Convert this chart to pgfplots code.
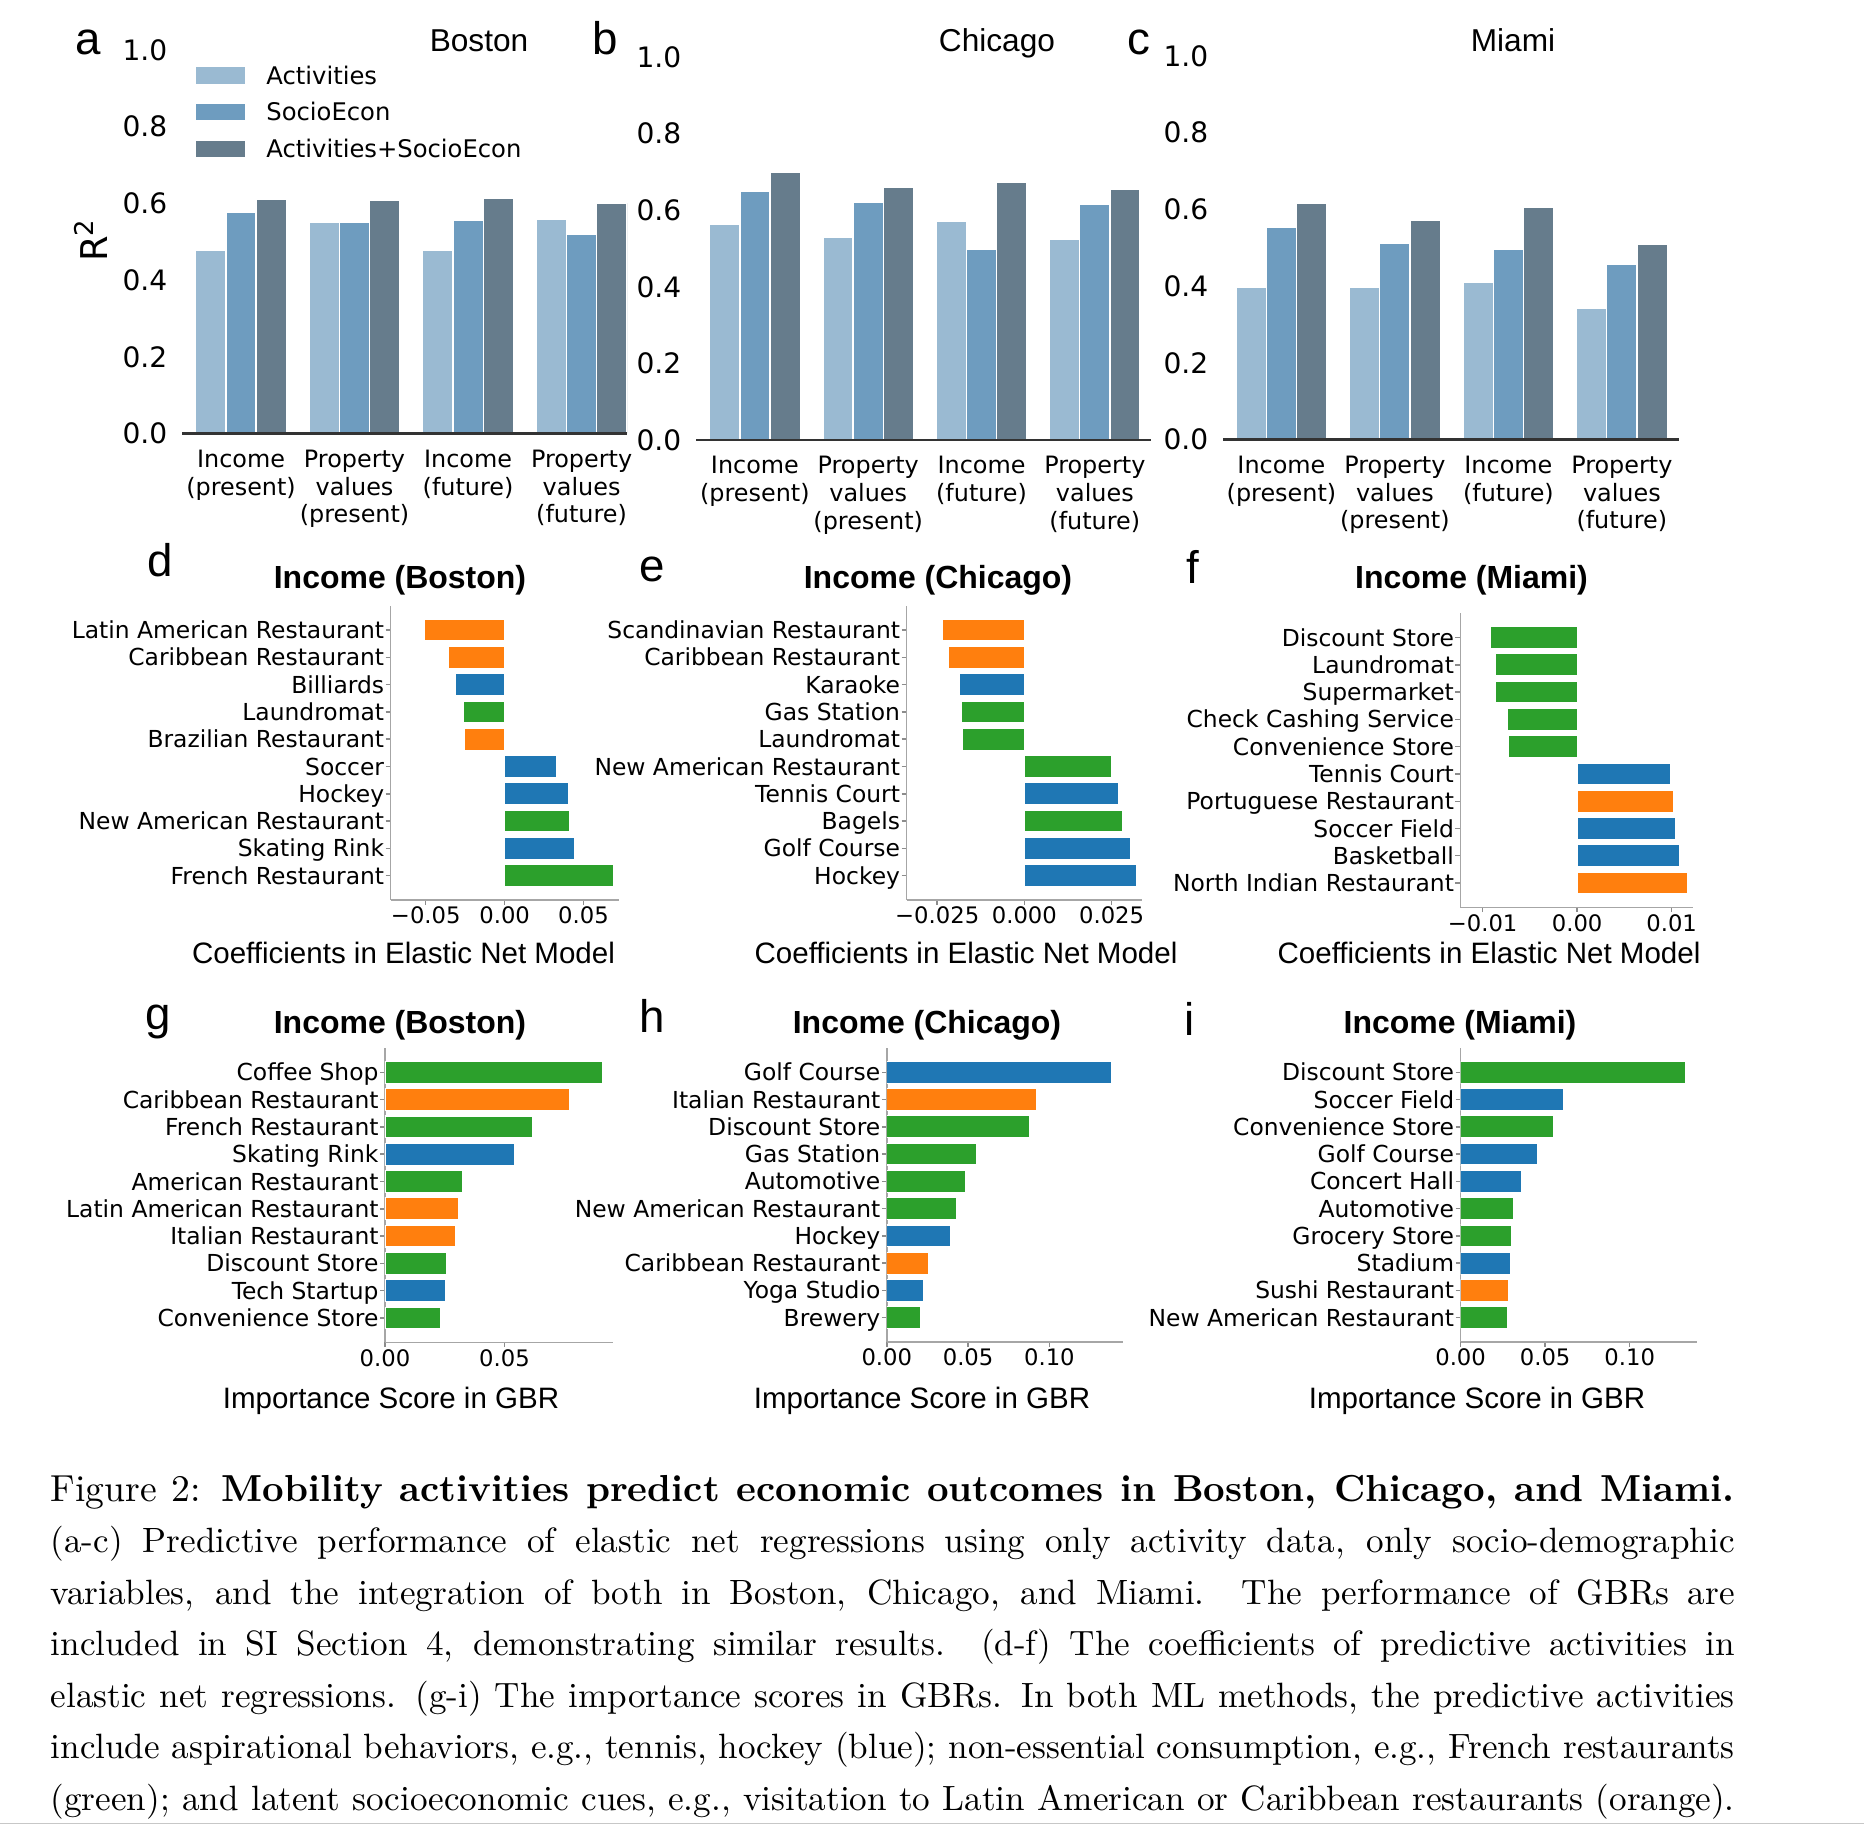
\documentclass[border=0pt]{standalone}
\usepackage{fontspec}
\usepackage{pgfplots}
\pgfplotsset{compat=1.18}
\newfontfamily\dejavu{DejaVu Sans}
\newfontfamily\arial{Liberation Sans}
\definecolor{cA}{HTML}{9ABAD2}
\definecolor{cS}{HTML}{6E9CBF}
\definecolor{cAS}{HTML}{667C8C}
\definecolor{tblue}{HTML}{1F77B4}
\definecolor{torange}{HTML}{FF7F0E}
\definecolor{tgreen}{HTML}{2CA02C}
\pgfplotsset{
  topbar/.style={scale only axis, anchor=south west, ymin=0, ymax=1, axis on top,
    ytick={0,0.2,0.4,0.6,0.8,1.0}, yticklabels={0.0,0.2,0.4,0.6,0.8,1.0},
    xtick={0,1,2,3},
    axis x line*=bottom, axis y line*=left,
    y axis line style={draw=none},
    x axis line style={-, draw=black!80, line width=0.6pt},
    major tick length=0pt, tick style={draw=none},
    xticklabel style={font=\dejavu\fontsize{6.8}{7.95}\selectfont, align=center, inner sep=0pt, yshift=-4.4pt, anchor=north},
    yticklabel style={font=\dejavu\fontsize{8}{9}\selectfont, inner sep=0pt, xshift=-4pt, anchor=east}},
  hbar/.style={scale only axis, anchor=south west, ymin=-0.89, ymax=9.89,
    ytick={0,1,2,3,4,5,6,7,8,9}, scaled x ticks=false,
    axis x line*=bottom, axis y line*=left,
    axis line style={-, draw=black!35, line width=0.45pt},
    tick align=outside, major tick length=1.4pt,
    tick style={draw=black!45, line width=0.4pt},
    yticklabel style={font=\dejavu\fontsize{6.66}{7}\selectfont, inner sep=0pt, xshift=-0.25pt, anchor=east, text height=4.85pt, text depth=0pt},
    xticklabel style={font=\dejavu\fontsize{6.46}{7}\selectfont, inner sep=0pt, yshift=-0.4pt, anchor=north}},
  cbar/.style={xbar, bar width=0.8, bar shift=0pt, draw=white, line width=0.3pt, fill=#1},
  vbar/.style={ybar, bar width=0.2667, bar shift=0pt, draw=white, line width=0.4pt, fill=#1}
}
\begin{document}
\begin{tikzpicture}
\path[use as bounding box] (0,0) rectangle (18.64,-18.25);

% ---------- top row ----------
\begin{axis}[topbar, at={(1.82cm,-4.335cm)}, width=4.45cm, height=3.835cm, xmin=-0.52, xmax=3.4,
  xticklabels={{Income\\(present)},{Property\\values\\(present)},{Income\\(future)},{Property\\values\\(future)}},
  legend entries={Activities,SocioEcon,Activities+SocioEcon},
  legend cell align=left,
  legend style={at={(0.0315,0.967)}, anchor=north west, draw=none, fill=none, inner sep=0pt, outer sep=0pt,
    row sep=3.0pt, column sep=5.97pt, font=\dejavu\fontsize{6.9}{7}\selectfont,
    nodes={inner sep=0pt, text height=6.2pt, text depth=1.2pt}}]
\addplot[vbar=cA, legend image code/.code={\fill[cA] (0pt,-2.135pt) rectangle (13.66pt,2.135pt);}]
  coordinates {(-0.2667,0.477) (0.7333,0.5515) (1.7333,0.479) (2.7333,0.559)};
\addplot[vbar=cS, legend image code/.code={\fill[cS] (0pt,-2.135pt) rectangle (13.66pt,2.135pt);}]
  coordinates {(0,0.576) (1,0.5515) (2,0.557) (3,0.520)};
\addplot[vbar=cAS, legend image code/.code={\fill[cAS] (0pt,-2.135pt) rectangle (13.66pt,2.135pt);}]
  coordinates {(0.2667,0.611) (1.2667,0.609) (2.2667,0.613) (3.2667,0.601)};
\end{axis}

\begin{axis}[topbar, at={(6.96cm,-4.40cm)}, width=4.555cm, height=3.83cm, xmin=-0.52, xmax=3.5,
  xticklabels={{Income\\(present)},{Property\\values\\(present)},{Income\\(future)},{Property\\values\\(future)}}]
\addplot[vbar=cA] coordinates {(-0.2667,0.563) (0.7333,0.530) (1.7333,0.571) (2.7333,0.525)};
\addplot[vbar=cS] coordinates {(0,0.649) (1,0.620) (2,0.4975) (3,0.6145)};
\addplot[vbar=cAS] coordinates {(0.2667,0.699) (1.2667,0.660) (2.2667,0.6726) (3.2667,0.6556)};
\end{axis}

\begin{axis}[topbar, at={(12.23cm,-4.395cm)}, width=4.556cm, height=3.835cm, xmin=-0.515, xmax=3.5,
  xticklabels={{Income\\(present)},{Property\\values\\(present)},{Income\\(future)},{Property\\values\\(future)}}]
\addplot[vbar=cA] coordinates {(-0.2667,0.396) (0.7333,0.3975) (1.7333,0.409) (2.7333,0.342)};
\addplot[vbar=cS] coordinates {(0,0.554) (1,0.5116) (2,0.4947) (3,0.458)};
\addplot[vbar=cAS] coordinates {(0.2667,0.615) (1.2667,0.571) (2.2667,0.606) (3.2667,0.509)};
\end{axis}

% ---------- middle row ----------
\begin{axis}[hbar, at={(3.906cm,-9.00cm)}, width=2.284cm, height=2.943cm, xmin=-0.0723, xmax=0.0725,
  xtick={-0.05,0,0.05}, xticklabels={−0.05,0.00,0.05},
  yticklabels={French Restaurant,Skating Rink,New American Restaurant,Hockey,Soccer,Brazilian Restaurant,Laundromat,Billiards,Caribbean Restaurant,Latin American Restaurant}]
\addplot[cbar=torange] coordinates {(-0.0508,9) (-0.0358,8) (-0.0256,5)};
\addplot[cbar=tblue] coordinates {(-0.0313,7) (0.0332,4) (0.0407,3) (0.0446,1)};
\addplot[cbar=tgreen] coordinates {(-0.0259,6) (0.0409,2) (0.0689,0)};
\end{axis}

\begin{axis}[hbar, at={(9.065cm,-9.00cm)}, width=2.358cm, height=2.943cm, xmin=-0.0338, xmax=0.0338,
  xtick={-0.025,0,0.025}, xticklabels={−0.025,0.000,0.025},
  yticklabels={Hockey,Golf Course,Bagels,Tennis Court,New American Restaurant,Laundromat,Gas Station,Karaoke,Caribbean Restaurant,Scandinavian Restaurant}]
\addplot[cbar=torange] coordinates {(-0.0235,9) (-0.0218,8)};
\addplot[cbar=tblue] coordinates {(-0.0185,7) (0.0271,3) (0.0304,1) (0.0321,0)};
\addplot[cbar=tgreen] coordinates {(-0.0179,6) (-0.0178,5) (0.0249,4) (0.0282,2)};
\end{axis}

\begin{axis}[hbar, at={(14.604cm,-9.073cm)}, width=2.326cm, height=2.94cm, xmin=-0.01235, xmax=0.01226,
  xtick={-0.01,0,0.01}, xticklabels={−0.01,0.00,0.01},
  yticklabels={North Indian Restaurant,Basketball,Soccer Field,Portuguese Restaurant,Tennis Court,Convenience Store,Check Cashing Service,Supermarket,Laundromat,Discount Store}]
\addplot[cbar=torange] coordinates {(0.01021,3) (0.01169,0)};
\addplot[cbar=tblue] coordinates {(0.00988,4) (0.01036,2) (0.01083,1)};
\addplot[cbar=tgreen] coordinates {(-0.00912,9) (-0.00869,8) (-0.00865,7) (-0.00741,6) (-0.00722,5)};
\end{axis}

% ---------- bottom row ----------
\begin{axis}[hbar, at={(3.85cm,-13.423cm)}, width=2.284cm, height=2.943cm, xmin=0, xmax=0.0956,
  xtick={0,0.05}, xticklabels={0.00,0.05},
  yticklabels={Convenience Store,Tech Startup,Discount Store,Italian Restaurant,Latin American Restaurant,American Restaurant,Skating Rink,French Restaurant,Caribbean Restaurant,Coffee Shop}]
\addplot[cbar=torange] coordinates {(0.0771,8) (0.0309,4) (0.0297,3)};
\addplot[cbar=tblue] coordinates {(0.0543,6) (0.0253,1)};
\addplot[cbar=tgreen] coordinates {(0.0910,9) (0.0616,7) (0.0323,5) (0.0259,2) (0.0234,0)};
\end{axis}

\begin{axis}[hbar, at={(8.868cm,-13.42cm)}, width=2.358cm, height=2.94cm, xmin=0, xmax=0.145,
  xtick={0,0.05,0.10}, xticklabels={0.00,0.05,0.10},
  yticklabels={Brewery,Yoga Studio,Caribbean Restaurant,Hockey,New American Restaurant,Automotive,Gas Station,Discount Store,Italian Restaurant,Golf Course}]
\addplot[cbar=torange] coordinates {(0.0918,8) (0.0259,2)};
\addplot[cbar=tblue] coordinates {(0.1381,9) (0.0391,3) (0.0226,1)};
\addplot[cbar=tgreen] coordinates {(0.0875,7) (0.0553,6) (0.0485,5) (0.0431,4) (0.0207,0)};
\end{axis}

\begin{axis}[hbar, at={(14.606cm,-13.42cm)}, width=2.361cm, height=2.94cm, xmin=0, xmax=0.1396,
  xtick={0,0.05,0.10}, xticklabels={0.00,0.05,0.10},
  yticklabels={New American Restaurant,Sushi Restaurant,Stadium,Grocery Store,Automotive,Concert Hall,Golf Course,Convenience Store,Soccer Field,Discount Store}]
\addplot[cbar=torange] coordinates {(0.0281,1)};
\addplot[cbar=tblue] coordinates {(0.0609,8) (0.0455,6) (0.0360,5) (0.0296,2)};
\addplot[cbar=tgreen] coordinates {(0.1328,9) (0.0550,7) (0.0310,4) (0.0303,3) (0.0278,0)};
\end{axis}

% ---------- texts ----------
\begin{scope}[every node/.style={inner sep=0pt, anchor=base}]
\node[font=\arial\fontsize{13}{13}\selectfont] at (0.88,-0.55) {a};
\node[font=\arial\fontsize{13}{13}\selectfont] at (6.05,-0.55) {b};
\node[font=\arial\fontsize{13}{13}\selectfont] at (11.39,-0.55) {c};
\node[font=\arial\fontsize{9}{9}\selectfont] at (4.79,-0.517) {Boston};
\node[font=\arial\fontsize{9}{9}\selectfont] at (9.97,-0.517) {Chicago};
\node[font=\arial\fontsize{9}{9}\selectfont] at (15.13,-0.517) {Miami};
\node[font=\dejavu\fontsize{10.5}{10.5}\selectfont, rotate=90, anchor=center] at (0.91,-2.40) {R\textsuperscript{2}};

\node[font=\arial\fontsize{13}{13}\selectfont] at (1.60,-5.767) {d};
\node[font=\arial\fontsize{13}{13}\selectfont] at (6.52,-5.817) {e};
\node[font=\arial\fontsize{13}{13}\selectfont] at (11.93,-5.833) {f};
\node[font=\arial\bfseries\fontsize{9.1}{9.1}\selectfont] at (4.00,-5.883) {Income (Boston)};
\node[font=\arial\bfseries\fontsize{9.1}{9.1}\selectfont] at (9.38,-5.883) {Income (Chicago)};
\node[font=\arial\bfseries\fontsize{9.1}{9.1}\selectfont] at (14.715,-5.883) {Income (Miami)};
\node[font=\arial\fontsize{8.4}{8.4}\selectfont] at (4.035,-9.633) {Coefficients in Elastic Net Model};
\node[font=\arial\fontsize{8.4}{8.4}\selectfont] at (9.66,-9.633) {Coefficients in Elastic Net Model};
\node[font=\arial\fontsize{8.4}{8.4}\selectfont] at (14.89,-9.633) {Coefficients in Elastic Net Model};

\node[font=\arial\fontsize{13}{13}\selectfont] at (1.58,-10.30) {g};
\node[font=\arial\fontsize{13}{13}\selectfont] at (6.525,-10.327) {h};
\node[font=\arial\fontsize{13}{13}\selectfont] at (11.90,-10.35) {i};
\node[font=\arial\bfseries\fontsize{9.1}{9.1}\selectfont] at (4.00,-10.333) {Income (Boston)};
\node[font=\arial\bfseries\fontsize{9.1}{9.1}\selectfont] at (9.27,-10.333) {Income (Chicago)};
\node[font=\arial\bfseries\fontsize{9.1}{9.1}\selectfont] at (14.60,-10.333) {Income (Miami)};
\node[font=\arial\fontsize{8.4}{8.4}\selectfont] at (3.91,-14.083) {Importance Score in GBR};
\node[font=\arial\fontsize{8.4}{8.4}\selectfont] at (9.22,-14.083) {Importance Score in GBR};
\node[font=\arial\fontsize{8.4}{8.4}\selectfont] at (14.77,-14.083) {Importance Score in GBR};
\end{scope}

% ---------- caption ----------
\begin{scope}[every node/.style={inner sep=0pt, anchor=base west, font=\fontsize{10}{12}\selectfont}]
\node[font=\fontsize{10.7}{12}\selectfont] at (0.50,-15.01) {\hbox to 16.84cm{Figure 2: \textbf{Mobility activities predict economic outcomes in Boston, Chicago, and Miami.}}};
\node at (0.50,-15.525) {\hbox to 16.84cm{(a-c) Predictive performance of elastic net regressions using only activity data, only socio-demographic}};
\node at (0.50,-16.04) {\hbox to 16.84cm{variables, and the integration of both in Boston, Chicago, and Miami.  The performance of GBRs are}};
\node at (0.50,-16.555) {\hbox to 16.84cm{included in SI Section 4, demonstrating similar results.  (d-f) The coefficients of predictive activities in}};
\node at (0.50,-17.07) {\hbox to 16.84cm{elastic net regressions. (g-i) The importance scores in GBRs. In both ML methods, the predictive activities}};
\node at (0.50,-17.585) {\hbox to 16.84cm{include aspirational behaviors, e.g., tennis, hockey (blue); non-essential consumption, e.g., French restaurants}};
\node at (0.50,-18.10) {\hbox to 16.84cm{(green); and latent socioeconomic cues, e.g., visitation to Latin American or Caribbean restaurants (orange).}};
\end{scope}
\draw[black!22, line width=0.5pt] (0,-18.235) -- (18.64,-18.235);
\end{tikzpicture}
\end{document}
